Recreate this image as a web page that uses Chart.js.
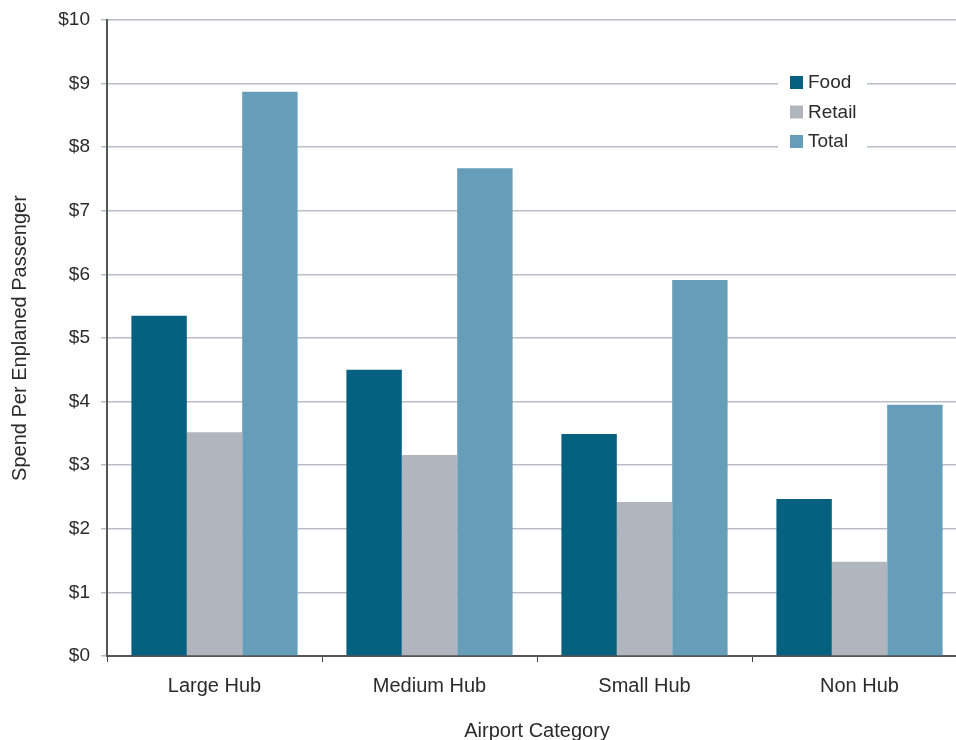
<!DOCTYPE html>
<html>
<head>
<meta charset="utf-8">
<script src="https://cdn.jsdelivr.net/npm/chart.js@4"></script>
<style>
  html, body { margin: 0; padding: 0; background: #fff; overflow: hidden; }
  #wrap { width: 967px; height: 740px; }
</style>
</head>
<body>
<div id="wrap"><canvas id="chart" width="967" height="740"></canvas></div>
<script>
const categories = ["Large Hub", "Medium Hub", "Small Hub", "Non Hub"];
const food = [5.35, 4.50, 3.49, 2.47];
const retail = [3.52, 3.16, 2.42, 1.48];
const total = [8.87, 7.67, 5.91, 3.95];
const yTicks = [0, 1, 2, 3, 4, 5, 6, 7, 8, 9, 10];

const fontFam = "'Liberation Sans', Arial, sans-serif";
const textColor = "#2b2b2b";

// legend drawn inside the plot with a white box behind it
const legendBox = {
  id: "legendBox",
  afterDraw(chart) {
    const ctx = chart.ctx;
    const x0 = 778, y0 = 68;
    ctx.save();
    ctx.fillStyle = "#fff";
    ctx.fillRect(x0, y0, 89, 88);
    ctx.font = "19px " + fontFam;
    ctx.textBaseline = "middle";
    chart.data.datasets.forEach((ds, i) => {
      const y = 82 + i * 29.5;
      ctx.fillStyle = ds.backgroundColor;
      ctx.fillRect(790, y - 6, 13, 13);
      ctx.fillStyle = textColor;
      ctx.fillText(ds.label, 808, y + 1);
    });
    ctx.restore();
  }
};

new Chart(document.getElementById("chart"), {
  type: "bar",
  data: {
    labels: categories,
    datasets: [
      { label: "Food", data: food, backgroundColor: "#05617f" },
      { label: "Retail", data: retail, backgroundColor: "#b1b5bd" },
      { label: "Total", data: total, backgroundColor: "#669eb9" }
    ]
  },
  options: {
    responsive: false,
    animation: false,
    layout: { padding: { top: 20, right: 0, left: 0, bottom: 0 } },
    datasets: { bar: { barPercentage: 1, categoryPercentage: 0.773 } },
    plugins: { legend: { display: false }, tooltip: { enabled: false } },
    scales: {
      x: {
        grid: { offset: true, drawOnChartArea: false, tickLength: 6, color: "#444" },
        border: { color: "#555", width: 2 },
        ticks: { color: textColor, font: { family: fontFam, size: 20 }, padding: 12 },
        title: { display: true, text: "Airport Category", color: textColor,
                 font: { family: fontFam, size: 20 }, padding: { top: 24, bottom: -3 } },
        afterFit(scale) { scale.height = 84; }
      },
      y: {
        min: 0, max: 10,
        afterBuildTicks(scale) { scale.ticks = yTicks.map(v => ({ value: v })); },
        grid: { color: "#b9bdc7", tickLength: 6, lineWidth: 1.5 },
        border: { color: "#555", width: 2 },
        ticks: { color: textColor, font: { family: fontFam, size: 19 }, padding: 11,
                 callback: v => "$" + v },
        title: { display: true, text: "Spend Per Enplaned Passenger", color: textColor,
                 font: { family: fontFam, size: 20 }, padding: { top: 8, bottom: 20 } },
        afterFit(scale) { scale.width = 107; scale.paddingTop = 0; }
      }
    }
  },
  plugins: [legendBox]
});
</script>
</body>
</html>
